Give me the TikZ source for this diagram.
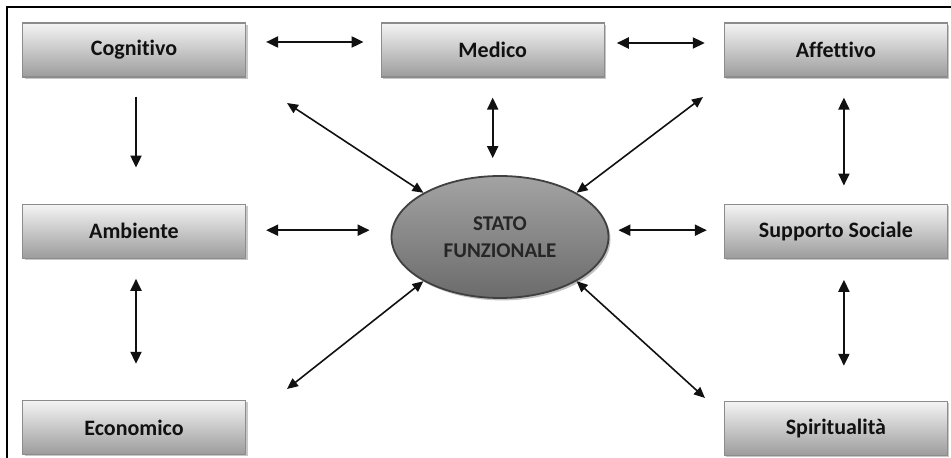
\documentclass[tikz,border=0pt]{standalone}
\usepackage{fontspec}
\setmainfont{Carlito}[Ligatures=NoCommon]
\usepackage{tikz}
\usetikzlibrary{positioning,arrows.meta,calc,shadows,shapes.geometric}
\definecolor{fink}{HTML}{111111}
\definecolor{fedge}{HTML}{8C8C8C}
\definecolor{ftop}{HTML}{F4F4F4}
\definecolor{fbot}{HTML}{9C9C9C}
\tikzset{
  dombox/.style ={rectangle, draw=fedge, line width=0.6pt, top color=ftop, bottom color=fbot,
                  minimum width=111.5pt, minimum height=27pt, inner sep=0pt,
                  font=\fontsize{11}{13}\selectfont\bfseries, text=fink,
                  drop shadow={shadow xshift=1pt, shadow yshift=-1pt, fill=gray!55, opacity=0.8}},
  hub/.style    ={ellipse, draw=black!75, line width=0.9pt, top color=gray!72, bottom color=black!58,
                  minimum width=108.5pt, minimum height=61pt, inner sep=0pt, align=center,
                  font=\fontsize{10.5}{13.5}\selectfont\bfseries, text=black!85,
                  drop shadow={shadow xshift=1pt, shadow yshift=-1.2pt, fill=gray!60, opacity=0.8}},
  link/.style   ={{Triangle[length=6pt,width=5.5pt]}-{Triangle[length=6pt,width=5.5pt]}, line width=1pt, draw=fink},
  onelink/.style={-{Triangle[length=6pt,width=5.5pt]}, line width=1pt, draw=fink},
  slink/.style  ={{Triangle[length=5.5pt,width=4.8pt]}-{Triangle[length=5.5pt,width=4.8pt]}, line width=0.8pt, draw=fink},
}
\begin{document}
\begin{tikzpicture}[x=0.5pt, y=-0.5pt]
  \useasboundingbox (0,0) rectangle (951,458);
  \draw[line width=0.8pt] (7,458) -- (7,7) -- (951,7);

  % left column, middle, right column
  \node[dombox] (cog) at (134,50) {Cognitivo};
  \node[dombox, right=67.25pt of cog] (med) {Medico};
  \node[dombox, right=59.5pt of med] (aff) {Affettivo};
  \node[dombox, below=63pt of cog] (amb) {Ambiente};
  \node[dombox, below=70.5pt of amb] (eco) {Economico};
  \node[dombox, below=63pt of aff] (sup) {Supporto Sociale};
  \node[dombox, below=71pt of sup] (spi) {Spiritualità};
  \node[hub] (stato) at (500,237) {STATO\\FUNZIONALE};

  \coordinate (ul) at (287,103);
  \coordinate (ur) at (703,97);
  \coordinate (ll) at (287,389);
  \coordinate (lr) at (705,398);

  \draw[link, shorten <=10pt, shorten >=8.5pt] ([yshift=4pt]cog.east) -- ([yshift=4pt]med.west);
  \draw[link, shorten <=6pt, shorten >=9.5pt] ([yshift=3.5pt]med.east) -- ([yshift=3.5pt]aff.west);
  \draw[onelink, shorten <=9.5pt, shorten >=18pt] ([xshift=1pt]cog.south) -- ([xshift=1pt]amb.north);
  \draw[link, shorten <=10pt, shorten >=8.5pt] (med.south) -- (med.south |- stato.north);
  \draw[link, shorten <=10pt, shorten >=9pt] ([xshift=4pt]aff.south) -- ([xshift=4pt]sup.north);
  \draw[link, shorten <=10pt, shorten >=10.5pt] ([yshift=0.5pt]amb.east) -- ([yshift=0.5pt]amb.east -| stato.west);
  \draw[link, shorten <=4.5pt, shorten >=8.5pt] ([yshift=0.5pt]sup.west -| stato.east) -- ([yshift=0.5pt]sup.west);
  \draw[link, shorten <=10pt, shorten >=18pt] ([xshift=1pt]amb.south) -- ([xshift=1pt]eco.north);
  \draw[link, shorten <=10.5pt, shorten >=17.5pt] ([xshift=4pt]sup.south) -- ([xshift=4pt]spi.north);

  \draw[slink] (stato.150) -- (ul);
  \draw[slink] (stato.30) -- (ur);
  \draw[slink] (stato.210) -- (ll);
  \draw[slink] (stato.330) -- (lr);
\end{tikzpicture}
\end{document}
